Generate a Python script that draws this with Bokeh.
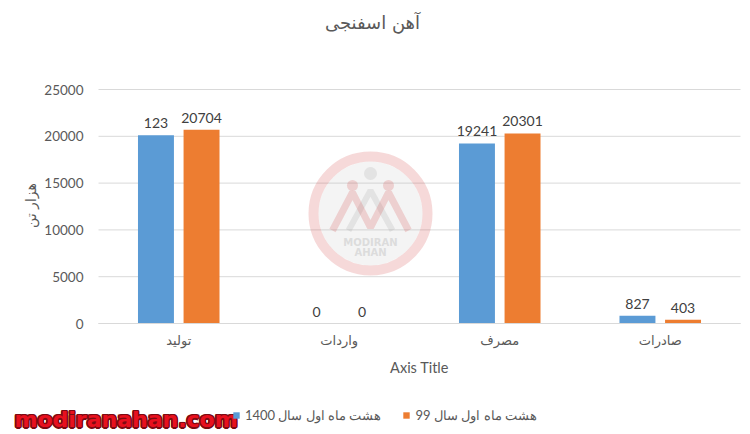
import math
from bokeh.plotting import figure
from bokeh.models import (ColumnDataSource, Range1d, Label, Legend, LegendItem,
                          FixedTicker)
from bokeh.core.properties import value
from bokeh.embed import file_html
from bokeh.resources import INLINE

# ---------------- data ----------------
title_text = "آهن اسفنجی"
categories = ["تولید", "واردات", "مصرف", "صادرات"]
series_names = ["هشت ماه اول سال 1400", "هشت ماه اول سال 99"]
values_1400 = [20123, 0, 19241, 827]
values_99 = [20704, 0, 20301, 403]
labels_1400 = ["123", "0", "19241", "827"]
labels_99 = ["20704", "0", "20301", "403"]
y_ticks = [0, 5000, 10000, 15000, 20000, 25000]
y_axis_title = "هزار تن"
x_axis_title = "Axis Title"
watermark_text = "modiranahan.com"
logo_words = ["MODIRAN", "AHAN"]

# ---------------- layout ----------------
W, H = 750, 434
PLOT_L, PLOT_R, PLOT_T, PLOT_B = 98, 740, 89, 323   # plot area inside the figure
YMAX = 25000
BLUE, ORANGE = "#5b9bd5", "#ed7d31"
TXT = "#595959"
GRID = "#d9d9d9"
OFF = 0.142
BW = 0.224

n = len(categories)
cat_w = (PLOT_R - PLOT_L) / n
y_per_px = YMAX / (PLOT_B - PLOT_T)
x_start = -PLOT_L / cat_w
x_end = n + (W - PLOT_R) / cat_w
y_start = -(H - PLOT_B) * y_per_px
y_end = YMAX + PLOT_T * y_per_px


def fx(px):
    # pixel -> data x (decoration placement only)
    return (px - PLOT_L) / cat_w


def fy(py):
    return (PLOT_B - py) * y_per_px


centers = [i + 0.5 for i in range(n)]
src = ColumnDataSource(dict(
    cat=categories,
    x1=[c - OFF for c in centers], x2=[c + OFF for c in centers],
    v1=values_1400, v2=values_99, l1=labels_1400, l2=labels_99))

p = figure(width=W, height=H, x_range=Range1d(x_start, x_end),
           y_range=Range1d(y_start, y_end), output_backend="svg",
           toolbar_location=None, title=None, min_border=0,
           background_fill_color="white", border_fill_color="white")
p.outline_line_color = None
p.xgrid.visible = False
p.ygrid.visible = False

# horizontal gridlines across the plot area
p.segment(x0=[0] * len(y_ticks), x1=[n] * len(y_ticks), y0=y_ticks, y1=y_ticks,
          line_color=GRID, line_width=1)

# ---------- watermark logo (decoration) ----------
cx, cy = fx(370), fy(213)
p.scatter(x=[cx], y=[cy], size=104, fill_color="#bdbdbd", fill_alpha=0.16,
          line_color=None)
p.scatter(x=[cx], y=[cy], size=114, fill_color=None, line_color="#d04040",
          line_alpha=0.2, line_width=10)
p.line(x=[fx(348), fx(370), fx(392)], y=[fy(230), fy(190), fy(230)],
       line_color="#9e9e9e", line_alpha=0.2, line_width=6)
p.scatter(x=[fx(370)], y=[fy(173)], size=13, fill_color="#9e9e9e",
          fill_alpha=0.2, line_color=None)
p.line(x=[fx(332), fx(352), fx(370), fx(388), fx(408)],
       y=[fy(230), fy(192), fy(227), fy(192), fy(230)],
       line_color="#d04040", line_alpha=0.2, line_width=7)
p.scatter(x=[fx(352), fx(388)], y=[fy(185), fy(185)], size=11,
          fill_color="#d04040", fill_alpha=0.2, line_color=None)
p.text(x=[fx(370), fx(370)], y=[fy(242), fy(252)], text=logo_words,
       text_align="center", text_baseline="middle", text_font=value("DejaVu Sans"),
       text_font_style="bold", text_font_size="10px", text_color="#dcdcdc")

# ---------------- bars ----------------
r1 = p.vbar(x="x1", top="v1", width=BW, source=src, fill_color=BLUE,
            line_color=None)
r2 = p.vbar(x="x2", top="v2", width=BW, source=src, fill_color=ORANGE,
            line_color=None)

for xc, col, lab in (("x1", "v1", "l1"), ("x2", "v2", "l2")):
    p.text(x=xc, y=col, text=lab, source=src, text_align="center",
           text_baseline="alphabetic", y_offset=-12, text_font=value("Lato"),
           text_font_size="14px", text_color="#404040")

# ---------------- axes ----------------
p.yaxis.fixed_location = 0
p.yaxis.bounds = (0, YMAX)
p.yaxis.ticker = FixedTicker(ticks=y_ticks)
p.yaxis.axis_line_color = None
p.yaxis.major_tick_line_color = None
p.yaxis.minor_tick_line_color = None
p.yaxis.major_label_standoff = 9
p.yaxis.major_label_text_font = "Lato"
p.yaxis.major_label_text_font_size = "13.5px"
p.yaxis.major_label_text_color = TXT

p.xaxis.fixed_location = 0
p.xaxis.bounds = (0, n)
p.xaxis.ticker = FixedTicker(ticks=centers)
p.xaxis.major_label_overrides = {c: name for c, name in zip(centers, categories)}
p.xaxis.axis_line_color = GRID
p.xaxis.major_tick_line_color = None
p.xaxis.minor_tick_line_color = None
p.xaxis.major_label_standoff = 3
p.xaxis.major_label_text_font = "DejaVu Sans"
p.xaxis.major_label_text_font_size = "13px"
p.xaxis.major_label_text_color = TXT
p.xaxis.axis_label = x_axis_title
p.xaxis.axis_label_text_font = "Lato"
p.xaxis.axis_label_text_font_size = "14.5px"
p.xaxis.axis_label_text_font_style = "normal"
p.xaxis.axis_label_text_color = TXT
p.xaxis.axis_label_standoff = 8

# y axis title (rotated)
p.add_layout(Label(x=fx(30), y=fy(205), text=y_axis_title,
                   angle=math.pi / 2, text_align="center", text_baseline="middle",
                   text_font="DejaVu Sans", text_font_size="14px", text_color=TXT))

# ---------------- title ----------------
p.add_layout(Label(x=fx(372), y=fy(22), text=title_text, text_align="center",
                   text_baseline="middle", text_font="DejaVu Sans",
                   text_font_size="18px", text_color=TXT))

# ---------------- legend ----------------
legend = Legend(items=[LegendItem(label=series_names[0], renderers=[r1]),
                       LegendItem(label=series_names[1], renderers=[r2])],
                orientation="horizontal", location=(232, 11), padding=0,
                margin=0, spacing=21, label_standoff=5, glyph_width=8,
                glyph_height=8, border_line_color=None,
                background_fill_alpha=0, label_text_font="Lato",
                label_text_font_size="13px", label_text_color=TXT)
p.add_layout(legend)

# ---------------- site watermark text ----------------
wx, wy = fx(14), fy(419)
for dx, dy in ((-1.5, 0), (1.5, 0), (0, -1.5), (0, 1.5),
               (-1.2, -1.2), (1.2, 1.2), (-1.2, 1.2), (1.2, -1.2)):
    p.add_layout(Label(x=wx, y=wy, x_offset=dx, y_offset=dy, text=watermark_text,
                       text_align="left", text_baseline="alphabetic",
                       text_font="DejaVu Sans", text_font_style="bold",
                       text_font_size="22px", text_color="#7d0a12"))
p.add_layout(Label(x=wx, y=wy, text=watermark_text, text_align="left",
                   text_baseline="alphabetic", text_font="DejaVu Sans",
                   text_font_style="bold", text_font_size="22px",
                   text_color="#e8101e"))

open("out.html", "w").write(file_html(p, INLINE))
